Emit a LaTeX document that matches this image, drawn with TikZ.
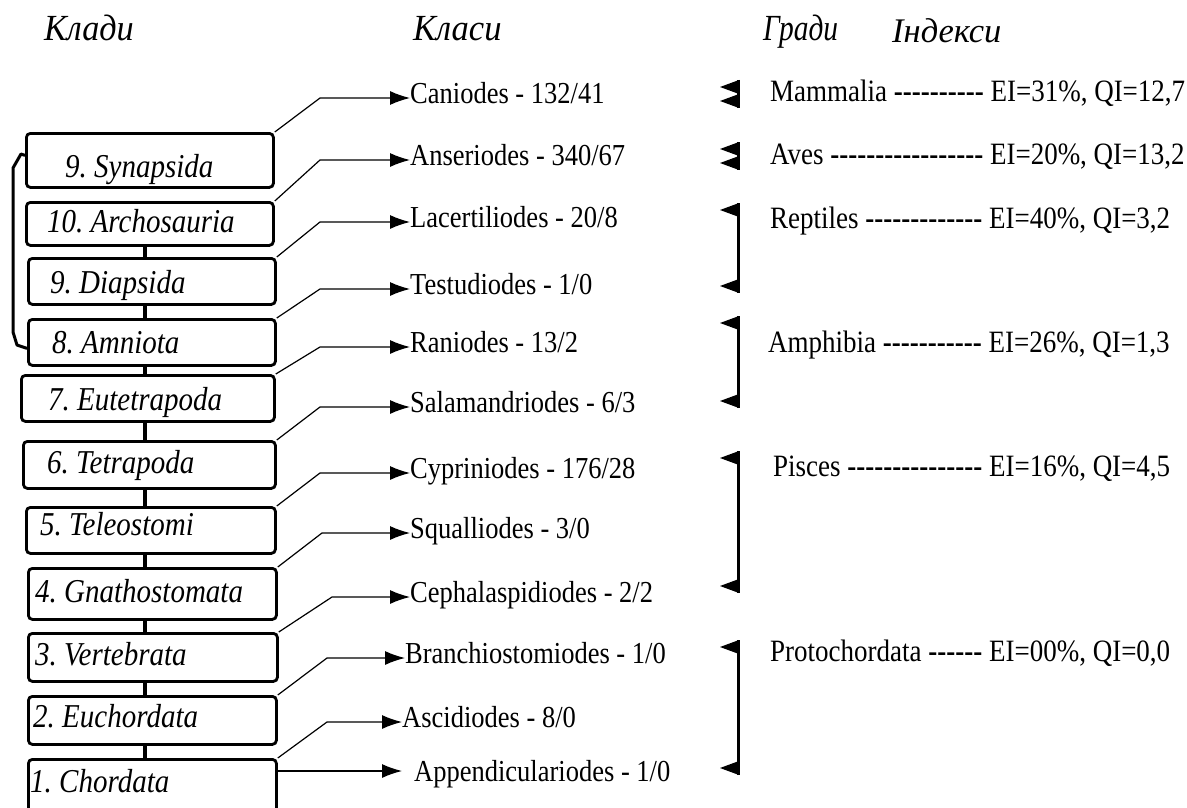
\documentclass[tikz,border=0pt]{standalone}
\usepackage{fontspec}
\setmainfont{Liberation Serif}
\usetikzlibrary{arrows.meta}
\newcommand{\vst}[1]{\scalebox{1}[1.15]{#1}}
\newcommand{\hst}[2]{\scalebox{#1}[1.15]{#2}}
\newcommand{\dsh}[1]{\foreach \i in {1,...,#1}{\mbox{\bfseries -}}}
\newcommand{\grp}[2]{%
  \fill (739,#1) -- (720,#1+7) -- (739,#1+14) -- cycle;
  \fill (739,#2) -- (720,#2-7) -- (739,#2-14) -- cycle;
  \draw[line width=3pt] (738.5,#1) -- (738.5,#2);}
\frenchspacing
\begin{document}
\begin{tikzpicture}[x=1pt,y=-1pt,
  box/.style={draw, line width=2.8pt, rounded corners=4pt, inner sep=0pt, anchor=north west},
  lab/.style={anchor=base west, inner sep=0pt, font=\fontsize{29}{29}\selectfont\itshape},
  cls/.style={anchor=base west, inner sep=0pt, font=\fontsize{26.5}{26.5}\selectfont},
  grd/.style={anchor=base west, inner sep=0pt, font=\fontsize{27}{27}\selectfont},
  hdr/.style={anchor=base west, inner sep=0pt, font=\fontsize{32}{32}\selectfont\itshape},
  arr/.style={line width=1.2pt, -{Latex[length=20pt,width=14pt]}},
  link/.style={line width=4pt},
  brk/.style={line width=3pt, line join=round}]
\useasboundingbox (0,0) rectangle (1187,808);
% headers
\node[hdr] (h1) at (44,41) {\hst{1.07}{Клади}};
\node[hdr] (h2) at (413,41) {\hst{1.08}{Класи}};
\node[hdr] (h3) at (763,41) {\hst{0.92}{Гради}};
\node[hdr, font=\fontsize{30}{30}\selectfont\itshape] (h4) at (892,43) {\hst{1.15}{Індекси}};
% boxes
\node[box, minimum width=247pt, minimum height=54pt] (b9s) at (25,132) {};
\node[box, minimum width=247pt, minimum height=43pt] (b10) at (25,201) {};
\node[box, minimum width=247pt, minimum height=46pt] (b9d) at (27,257) {};
\node[box, minimum width=247pt, minimum height=46pt] (b8) at (27,318) {};
\node[box, minimum width=253pt, minimum height=46pt] (b7) at (20,374) {};
\node[box, minimum width=252pt, minimum height=47pt] (b6) at (22,440) {};
\node[box, minimum width=249pt, minimum height=46pt] (b5) at (25,506) {};
\node[box, minimum width=248pt, minimum height=51pt] (b4) at (27,567) {};
\node[box, minimum width=249pt, minimum height=48pt] (b3) at (27,632) {};
\node[box, minimum width=248pt, minimum height=48pt] (b2) at (27,695) {};
\node[box, minimum width=248pt, minimum height=70pt] (b1) at (27,758) {};
% box labels
\node[lab] (t9s) at (65,177) {\vst{9. Synapsida}};
\node[lab] (t10) at (47,232) {\vst{10. Archosauria}};
\node[lab] (t9d) at (50,293) {\vst{9. Diapsida}};
\node[lab] (t8) at (52,353) {\vst{8. Amniota}};
\node[lab] (t7) at (48,410) {\vst{7. Eutetrapoda}};
\node[lab] (t6) at (47,473) {\vst{6. Tetrapoda}};
\node[lab] (t5) at (40,535) {\vst{5. Teleostomi}};
\node[lab] (t4) at (35,602) {\vst{4. Gnathostomata}};
\node[lab] (t3) at (35,665) {\vst{3. Vertebrata}};
\node[lab] (t2) at (33,727) {\vst{2. Euchordata}};
\node[lab] (t1) at (30,792) {\vst{1. Chordata}};
% links between boxes
\foreach \a/\b in {b10/b9d, b9d/b8, b8/b7, b7/b6, b6/b5, b5/b4, b4/b3, b3/b2, b2/b1}
  \draw[link] (145,0 |- \a.south) -- (145,0 |- \b.north);
% bracket
\draw[brk] ([yshift=5pt]b9s.west) -- (21,154) -- (13,168) -- (13,332) -- (17,345) -- ([yshift=-6pt]b8.west);
% classes
\node[cls] (c1) at (410,103) {\vst{Caniodes - 132/41}};
\node[cls] (c2) at (410,165) {\vst{Anseriodes - 340/67}};
\node[cls] (c3) at (410,227) {\vst{Lacertiliodes - 20/8}};
\node[cls] (c4) at (410,294) {\vst{Testudiodes - 1/0}};
\node[cls] (c5) at (410,352) {\vst{Raniodes - 13/2}};
\node[cls] (c6) at (410,412) {\vst{Salamandriodes - 6/3}};
\node[cls] (c7) at (410,478) {\vst{Cypriniodes - 176/28}};
\node[cls] (c8) at (410,538) {\vst{Squalliodes - 3/0}};
\node[cls] (c9) at (410,602) {\vst{Cephalaspidiodes - 2/2}};
\node[cls] (c10) at (405,663) {\vst{Branchiostomiodes - 1/0}};
\node[cls] (c11) at (402,727) {\vst{Ascidiodes - 8/0}};
\node[cls] (c12) at (414,781) {\vst{Appendiculariodes - 1/0}};
% arrows
\draw[arr] (b9s.north east) -- (320,98) -- ([yshift=5pt]c1.base west);
\draw[arr] (b10.north east) -- (320,160) -- ([yshift=5pt]c2.base west);
\draw[arr] (b9d.north east) -- (320,222) -- ([yshift=5pt]c3.base west);
\draw[arr] (b8.north east) -- (320,289) -- ([yshift=5pt]c4.base west);
\draw[arr] (b7.north east) -- (320,347) -- ([yshift=5pt]c5.base west);
\draw[arr] (b6.north east) -- (320,407) -- ([yshift=5pt]c6.base west);
\draw[arr] (b5.north east) -- (320,473) -- ([yshift=5pt]c7.base west);
\draw[arr] (b4.north east) -- (322,533) -- ([yshift=5pt]c8.base west);
\draw[arr] (b3.north east) -- (332,597) -- ([yshift=5pt]c9.base west);
\draw[arr] (b2.north east) -- (327,658) -- ([yshift=5pt]c10.base west);
\draw[arr] (b1.north east) -- (327,722) -- ([yshift=5pt]c11.base west);
\draw[arr] ([yshift=-13pt]b1.north east) -- ([xshift=-12pt,yshift=10pt]c12.base west);
% grades
\grp{80}{108}
\grp{142}{170}
\grp{203}{293}
\grp{316}{408}
\grp{451}{593}
\grp{640}{775}
\node[grd] (g1) at (770,102) {\vst{Mammalia \dsh{10} EI=31\%, QI=12,7}};
\node[grd] (g2) at (770,164) {\vst{Aves \dsh{17} EI=20\%, QI=13,2}};
\node[grd] (g3) at (770,228) {\vst{Reptiles \dsh{13} EI=40\%, QI=3,2}};
\node[grd] (g4) at (768,352) {\vst{Amphibia \dsh{11} EI=26\%, QI=1,3}};
\node[grd] (g5) at (773,476) {\vst{Pisces \dsh{15} EI=16\%, QI=4,5}};
\node[grd] (g6) at (770,661) {\vst{Protochordata \dsh{6} EI=00\%, QI=0,0}};
\end{tikzpicture}
\end{document}
